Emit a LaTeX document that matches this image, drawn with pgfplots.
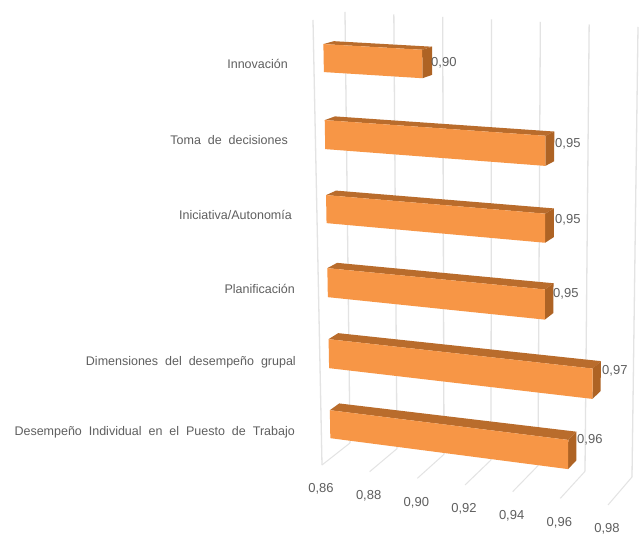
\documentclass[border=0pt]{standalone}
\usepackage{fontspec}
\setmainfont{Liberation Sans}
\usepackage{pgfplots}
\pgfplotsset{compat=1.18}
\definecolor{barfront}{HTML}{F79646}
\definecolor{bartop}{HTML}{B96C2C}
\definecolor{barside}{HTML}{AE6324}
\definecolor{gridgray}{HTML}{E3E3E3}
\definecolor{txt}{HTML}{5F5F5F}

% Rows hold value, height position and depth position of each corner
\pgfplotsset{/pgfplots/table/projected/.style={
  /pgfplots/table/x expr={PX(\thisrow{v},\thisrow{t},\thisrow{d})},
  /pgfplots/table/y expr={PY(\thisrow{v},\thisrow{t},\thisrow{d})},
  /pgfplots/table/row sep=\\}}
% One bar: value, upper and lower position across the chart height
\newcommand{\barbox}[3]{%
  \addplot[fill=bartop,draw=none] table[projected]{v t d\\ 0.86 #2 0.31\\ #1 #2 0.31\\ #1 #2 0.64\\ 0.86 #2 0.64\\ 0.86 #2 0.31\\};
  \addplot[fill=barside,draw=none] table[projected]{v t d\\ #1 #2 0.31\\ #1 #2 0.64\\ #1 #3 0.64\\ #1 #3 0.31\\ #1 #2 0.31\\};
  \addplot[fill=barfront,draw=none] table[projected]{v t d\\ 0.86 #2 0.31\\ #1 #2 0.31\\ #1 #3 0.31\\ 0.86 #3 0.31\\ 0.86 #2 0.31\\};
}
% Value label at the end of a bar
\newcommand{\barvalue}[3]{%
  \node[anchor=west,inner sep=0pt,font=\fontsize{13}{13}\selectfont,text=txt] at (axis cs:#2,#3) {\pgfmathprintnumber[fixed,fixed zerofill,precision=2,use comma,assume math mode=true]{#1}};
}
\newcommand{\catlabel}[3]{%
  \node[anchor=east,inner sep=0pt,font=\fontsize{12.5}{12.5}\selectfont,text=txt] at (axis cs:#1,#2) {#3};
}

\begin{document}
\begin{tikzpicture}
\path[use as bounding box,fill=white] (0,0) rectangle (641pt,548pt);
\begin{axis}[
  at={(0,0)},anchor=south west,
  scale only axis,width=641pt,height=548pt,
  xmin=0,xmax=641,ymin=0,ymax=548,y dir=reverse,
  hide axis,clip=false,
  declare function={
    fU(\vV)=(\vV-0.86)/0.12;
    PX(\vV,\tT,\dD)=(1-\dD)*((1-\tT)*((1-fU(\vV))*313+fU(\vV)*612)+\tT*((1-fU(\vV))*322+fU(\vV)*608))
      +\dD*((1-\tT)*((1-fU(\vV))*345+fU(\vV)*638)+\tT*((1-fU(\vV))*350+fU(\vV)*632));
    PY(\vV,\tT,\dD)=(1-\dD)*((1-\tT)*((1-fU(\vV))*20+fU(\vV)*36)+\tT*((1-fU(\vV))*465+fU(\vV)*505))
      +\dD*((1-\tT)*((1-fU(\vV))*12+fU(\vV)*27)+\tT*((1-fU(\vV))*443+fU(\vV)*477));
  },
]
% wall and floor gridlines
\pgfplotsinvokeforeach{0.86,0.88,0.90,0.92,0.94,0.96,0.98}{
  \addplot[gridgray,line width=1.3pt] table[projected]{v t d\\ #1 0 1\\ #1 1 1\\};
  \addplot[gridgray,line width=1pt] table[projected]{v t d\\ #1 1 1\\ #1 1 0\\};
  \node[inner sep=0pt,font=\fontsize{13}{13}\selectfont,text=txt] at (axis cs:{PX(#1,1,0)-1},{PY(#1,1,0)+24})
    {\pgfmathprintnumber[fixed,fixed zerofill,precision=2,use comma,assume math mode=true]{#1}};
}
\addplot[gridgray,line width=1.3pt] table[projected]{v t d\\ 0.86 0 0\\ 0.86 1 0\\};

% bars, top to bottom
\barbox{0.90}{0.0603}{0.1238}
\barbox{0.95}{0.2328}{0.2986}
\barbox{0.95}{0.4030}{0.4666}
\barbox{0.95}{0.5687}{0.6346}
\barbox{0.97}{0.7299}{0.7957}
\barbox{0.96}{0.8911}{0.9546}

\barvalue{0.90}{431}{62.5}
\barvalue{0.95}{555}{143.5}
\barvalue{0.95}{555}{219.5}
\barvalue{0.95}{553}{293.5}
\barvalue{0.97}{602}{370.5}
\barvalue{0.96}{577}{439.5}

\catlabel{288}{64}{Innovación}
\catlabel{288}{140}{Toma~~de~~decisiones}
\catlabel{292}{215}{Iniciativa/Autonomía}
\catlabel{295}{289}{Planificación}
\catlabel{296}{362}{Dimensiones~~del~~desempeño~~grupal}
\catlabel{295}{432}{Desempeño~~Individual~~en~~el~~Puesto~~de~~Trabajo}
\end{axis}
\end{tikzpicture}
\end{document}
